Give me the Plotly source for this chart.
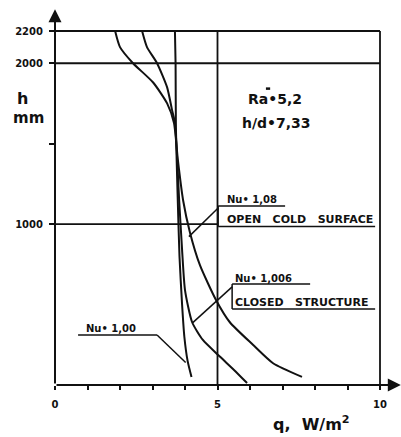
import plotly.graph_objects as go

# ---------------- data ----------------
# Nu = 1,00 (nearly vertical curve)
q_nu100 = [3.69, 3.71, 3.72, 3.77, 3.83, 3.91, 3.98, 4.08, 4.20]
h_nu100 = [2200, 2000, 1600, 1200, 800, 500, 300, 150, 50]

# Nu = 1,006 (closed structure)
q_nu1006 = [2.68, 2.83, 3.14, 3.45, 3.60, 3.69, 3.82, 3.91, 4.00, 4.22, 4.55, 5.08, 5.50, 5.91]
h_nu1006 = [2200, 2100, 2000, 1850, 1710, 1630, 1150, 840, 590, 390, 280, 175, 95, 12]

# Nu = 1,08 (open cold surface)
q_nu108 = [1.85, 2.00, 2.40, 3.02, 3.45, 3.66, 3.78, 3.94, 4.15, 4.46, 4.95, 5.38, 6.09, 6.71, 7.60]
h_nu108 = [2200, 2100, 2000, 1880, 1750, 1630, 1400, 1150, 950, 745, 530, 390, 250, 135, 50]

x_tickvals = [0, 1, 2, 3, 4, 5, 6, 7, 8, 9, 10]
x_ticktext = ["0", "", "", "", "", "5", "", "", "", "", "10"]
y_tickvals = [1000, 1500, 2000, 2200]
y_ticktext = ["1000", "", "2000", "2200"]

# reference frame lines
h_lines_full = [2200, 2000]      # from q=0 to q=10
h_lines_half = [1000]            # from q=0 to q=5
q_lines = [5, 10]                # from h=0 to h=2200

FONT = "DejaVu Sans"
BLACK = "#111111"

fig = go.Figure()

for q, h in [(q_nu100, h_nu100), (q_nu1006, h_nu1006), (q_nu108, h_nu108)]:
    fig.add_trace(go.Scatter(x=q, y=h, mode="lines",
                             line=dict(color=BLACK, width=2, shape="spline", smoothing=0.6),
                             showlegend=False, hoverinfo="skip"))

shapes = []
for hv in h_lines_full:
    shapes.append(dict(type="line", xref="x", yref="y", x0=0, x1=10, y0=hv, y1=hv,
                       line=dict(color=BLACK, width=2)))
for hv in h_lines_half:
    shapes.append(dict(type="line", xref="x", yref="y", x0=0, x1=5, y0=hv, y1=hv,
                       line=dict(color=BLACK, width=1.6)))
for qv in q_lines:
    shapes.append(dict(type="line", xref="x", yref="y", x0=qv, x1=qv, y0=0, y1=2200,
                       line=dict(color=BLACK, width=1.8)))

def seg(x0, y0, x1, y1, w=1.5):
    shapes.append(dict(type="line", xref="x", yref="y", x0=x0, y0=y0, x1=x1, y1=y1,
                       line=dict(color=BLACK, width=w)))

# Nu 1,08 open cold surface
seg(5.02, 1112, 7.08, 1112)
seg(5.02, 1112, 5.02, 985)
seg(5.02, 985, 9.85, 985)
seg(5.02, 1100, 4.12, 922)
# Nu 1,006 closed structure
seg(5.45, 628, 7.85, 628)
seg(5.45, 628, 5.45, 472)
seg(5.45, 472, 9.85, 472)
seg(5.45, 610, 4.24, 388)
# Nu 1,00
seg(0.71, 311, 3.14, 311)
seg(3.14, 311, 4.02, 140)
# small bar above the Ra sign
seg(6.49, 1842, 6.62, 1842, 2.5)

annotations = []
# axis arrows
annotations.append(dict(x=0, y=2335, ax=0, ay=0, xref="x", yref="y", axref="x", ayref="y",
                        text="", showarrow=True, arrowhead=2, arrowsize=1.3, arrowwidth=2,
                        arrowcolor=BLACK))
annotations.append(dict(x=10.64, y=0, ax=0, ay=0, xref="x", yref="y", axref="x", ayref="y",
                        text="", showarrow=True, arrowhead=2, arrowsize=1.3, arrowwidth=2,
                        arrowcolor=BLACK))

def txt(x, y, s, size, xanchor="center", ref="x"):
    annotations.append(dict(x=x, y=y, xref=ref, yref=("y" if ref == "x" else "paper"),
                            text=s, showarrow=False,
                            xanchor=xanchor, yanchor="middle",
                            font=dict(family=FONT, size=size, color=BLACK)))

txt(6.77, 1775, "<b>Ra\u20225,2</b>", 14)
txt(6.80, 1628, "<b>h/d\u20227,33</b>", 14)
txt(-0.0925, 0.755, "<b>h</b>", 16, ref="paper")
txt(-0.078, 0.703, "<b>mm</b>", 15, ref="paper")
txt(0.74, -0.10, "<b>q,  W/m<sup>2</sup></b>", 16, ref="paper")

txt(5.22, 1156, "<b>Nu\u2022 1,08</b>", 10, "left")
txt(5.24, 1028, "<b>OPEN   COLD   SURFACE</b>", 11, "left")
txt(5.48, 659, "<b>Nu\u2022 1,006</b>", 10, "left")
txt(5.47, 513, "<b>CLOSED   STRUCTURE</b>", 11, "left")
txt(0.90, 352, "<b>Nu\u2022 1,00</b>", 10, "left")

fig.update_layout(
    width=401, height=437,
    margin=dict(l=55, r=0, t=5, b=52),
    plot_bgcolor="white", paper_bgcolor="white",
    shapes=shapes, annotations=annotations,
    xaxis=dict(range=[0, 10.646], showgrid=False, zeroline=False, showline=False,
               tickvals=x_tickvals, ticktext=x_ticktext, ticks="outside", ticklen=4,
               tickwidth=1.5, tickcolor=BLACK, ticklabelstandoff=6,
               tickfont=dict(family=FONT, size=10, color=BLACK, weight="bold")),
    yaxis=dict(range=[0, 2361.7], showgrid=False, zeroline=False, showline=False,
               tickvals=y_tickvals, ticktext=y_ticktext, ticks="outside", ticklen=5,
               tickwidth=1.5, tickcolor=BLACK, ticklabelstandoff=4,
               tickfont=dict(family=FONT, size=10, color=BLACK, weight="bold")),
)

fig.write_html("out.html")
